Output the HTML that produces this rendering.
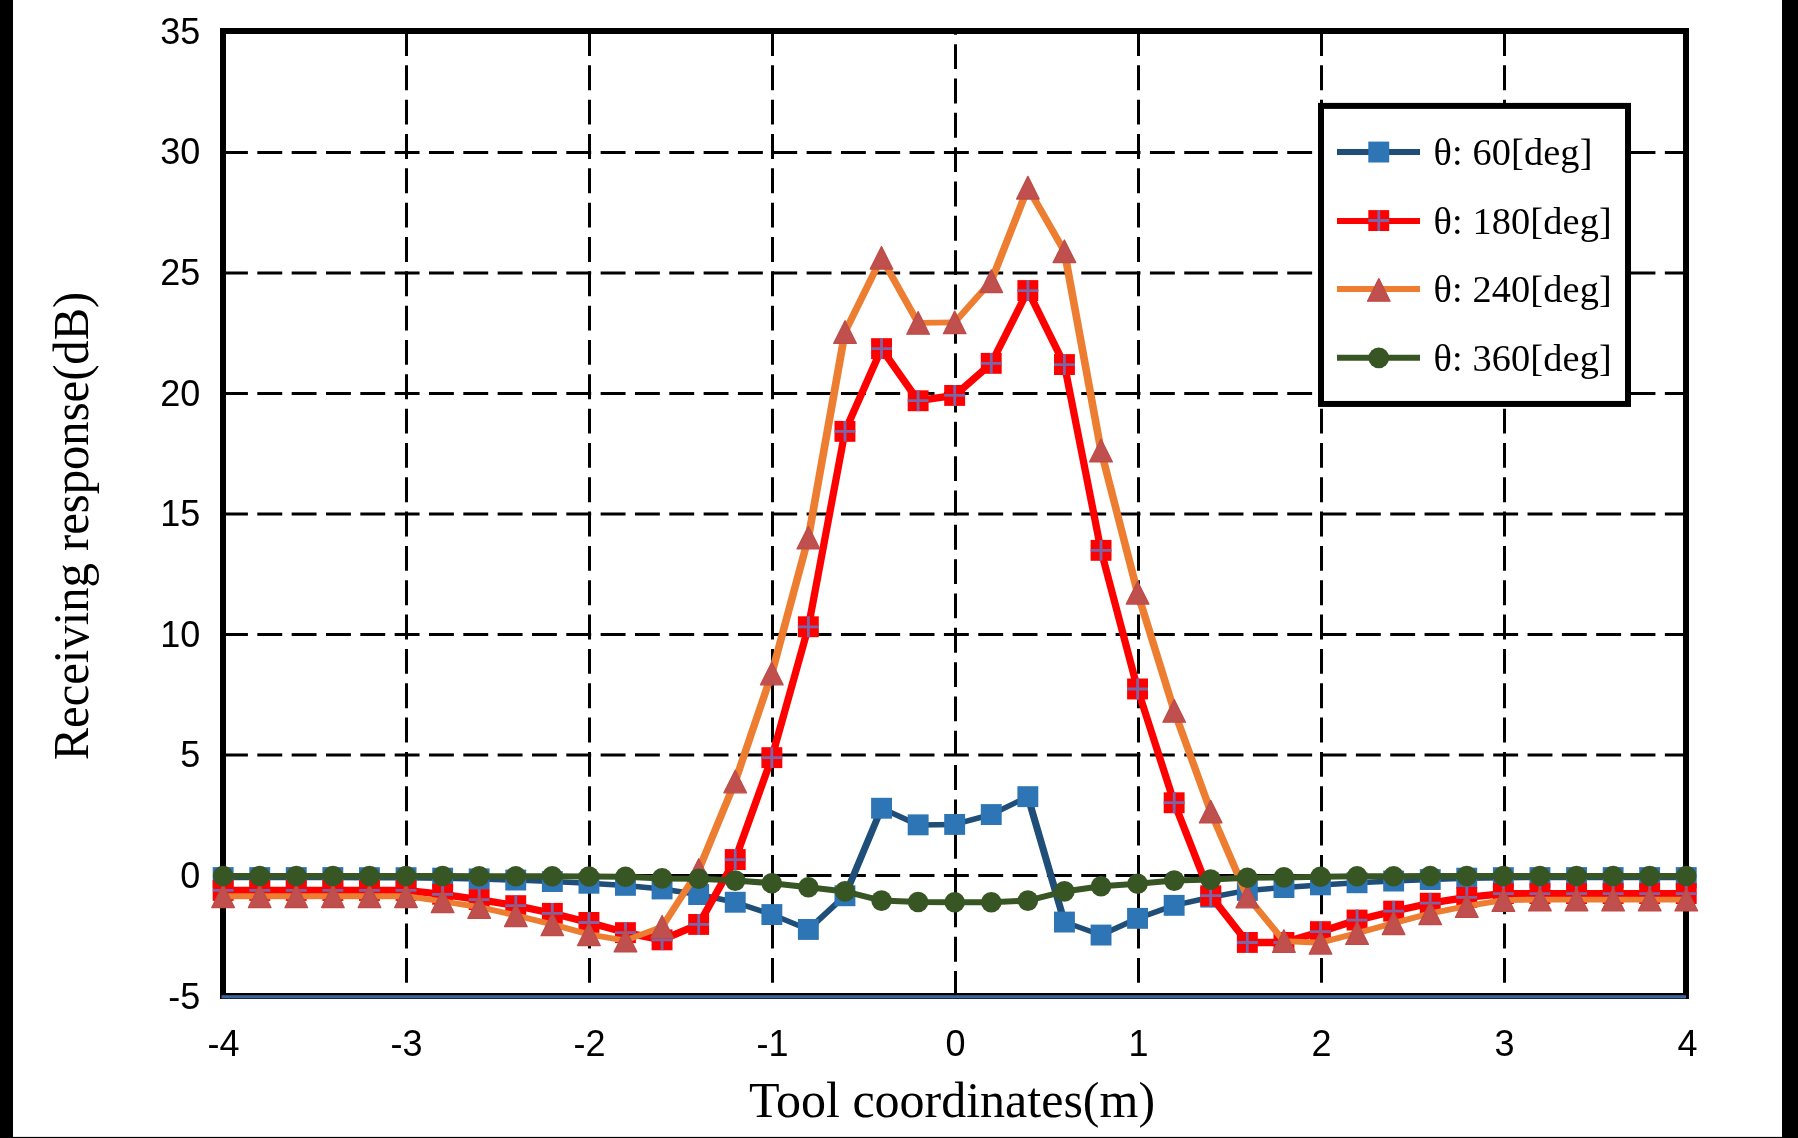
<!DOCTYPE html>
<html><head><meta charset="utf-8"><title>chart</title>
<style>
html,body{margin:0;padding:0;background:#fff;}
body{width:1798px;height:1138px;overflow:hidden;position:relative;font-family:"Liberation Sans",sans-serif;}
svg{position:absolute;left:0;top:0;display:block;will-change:transform}
.t{font-family:"Liberation Sans",sans-serif;font-size:36px;fill:#000}
.s{font-family:"Liberation Serif",serif;fill:#000}
</style></head><body>
<svg width="1798" height="1138" viewBox="0 0 1798 1138">
<rect x="0" y="0" width="1798" height="1138" fill="#fff"/>
<rect x="0" y="0" width="13" height="1138" fill="#000"/>
<rect x="1782" y="0" width="16" height="1138" fill="#000"/>
<rect x="0" y="1136.9" width="1798" height="1.1" fill="#000"/>

<g stroke="#000" stroke-width="3" fill="none" stroke-dasharray="24.9 9.43">
<path d="M223 152.5H1686"/>
<path d="M223 273.0H1686"/>
<path d="M223 393.5H1686"/>
<path d="M223 514.0H1686"/>
<path d="M223 634.5H1686"/>
<path d="M223 755.0H1686"/>
<path d="M223 875.5H1686"/>
<path d="M406.5 31V991"/>
<path d="M589.5 31V991"/>
<path d="M772.5 31V991"/>
<path d="M1138.5 31V991"/>
<path d="M1321.5 31V991"/>
<path d="M1504.5 31V991"/>
<path d="M955.5 996V31"/>
</g>
<rect x="223" y="31" width="1463" height="965" fill="none" stroke="#000" stroke-width="6"/>
<rect x="221.5" y="995.2" width="1464.5" height="3.2" fill="#3C649F"/>
<g fill="none" stroke="#1F4E79" stroke-linecap="round"><path d="M223.1 877.5L259.7 877.5" stroke-width="5.50"/><path d="M259.7 877.5L296.3 877.5" stroke-width="5.50"/><path d="M296.3 877.5L332.9 877.5" stroke-width="5.50"/><path d="M332.9 877.5L369.5 877.7" stroke-width="5.50"/><path d="M369.5 877.7L406.0 877.7" stroke-width="5.50"/><path d="M406.0 877.7L442.6 878.2" stroke-width="5.50"/><path d="M442.6 878.2L479.2 878.9" stroke-width="5.50"/><path d="M479.2 878.9L515.8 880.1" stroke-width="5.50"/><path d="M515.8 880.1L552.3 881.5" stroke-width="5.50"/><path d="M552.3 881.5L588.9 883.2" stroke-width="5.50"/><path d="M588.9 883.2L625.5 885.4" stroke-width="5.50"/><path d="M625.5 885.4L662.1 889.0" stroke-width="5.50"/><path d="M662.1 889.0L698.7 894.5" stroke-width="5.50"/><path d="M698.7 894.5L735.2 902.3" stroke-width="5.50"/><path d="M735.2 902.3L771.8 914.5" stroke-width="5.52"/><path d="M771.8 914.5L808.4 929.5" stroke-width="5.54"/><path d="M808.4 929.5L845.0 895.7" stroke-width="5.90"/><path d="M845.0 895.7L881.5 808.3" stroke-width="6.88"/><path d="M881.5 808.3L918.1 824.9" stroke-width="5.56"/><path d="M918.1 824.9L954.7 824.4" stroke-width="5.50"/><path d="M954.7 824.4L991.3 814.5" stroke-width="5.51"/><path d="M991.3 814.5L1027.9 796.7" stroke-width="5.57"/><path d="M1027.9 796.7L1064.4 922.0" stroke-width="7.11"/><path d="M1064.4 922.0L1101.0 935.0" stroke-width="5.52"/><path d="M1101.0 935.0L1137.6 918.4" stroke-width="5.56"/><path d="M1137.6 918.4L1174.2 905.4" stroke-width="5.52"/><path d="M1174.2 905.4L1210.7 897.2" stroke-width="5.50"/><path d="M1210.7 897.2L1247.3 890.4" stroke-width="5.50"/><path d="M1247.3 890.4L1283.9 887.5" stroke-width="5.50"/><path d="M1283.9 887.5L1320.5 884.9" stroke-width="5.50"/><path d="M1320.5 884.9L1357.1 882.7" stroke-width="5.50"/><path d="M1357.1 882.7L1393.6 881.0" stroke-width="5.50"/><path d="M1393.6 881.0L1430.2 879.6" stroke-width="5.50"/><path d="M1430.2 879.6L1466.8 878.2" stroke-width="5.50"/><path d="M1466.8 878.2L1503.4 877.7" stroke-width="5.50"/><path d="M1503.4 877.7L1539.9 877.5" stroke-width="5.50"/><path d="M1539.9 877.5L1576.5 877.5" stroke-width="5.50"/><path d="M1576.5 877.5L1613.1 877.5" stroke-width="5.50"/><path d="M1613.1 877.5L1649.7 877.5" stroke-width="5.50"/><path d="M1649.7 877.5L1686.3 877.5" stroke-width="5.50"/></g>
<rect x="212.7" y="867.1" width="20.9" height="20.9" fill="#2E75B6"/><rect x="249.3" y="867.1" width="20.9" height="20.9" fill="#2E75B6"/><rect x="285.8" y="867.1" width="20.9" height="20.9" fill="#2E75B6"/><rect x="322.4" y="867.1" width="20.9" height="20.9" fill="#2E75B6"/><rect x="359.0" y="867.2" width="20.9" height="20.9" fill="#2E75B6"/><rect x="395.6" y="867.2" width="20.9" height="20.9" fill="#2E75B6"/><rect x="432.2" y="867.7" width="20.9" height="20.9" fill="#2E75B6"/><rect x="468.7" y="868.4" width="20.9" height="20.9" fill="#2E75B6"/><rect x="505.3" y="869.6" width="20.9" height="20.9" fill="#2E75B6"/><rect x="541.9" y="871.1" width="20.9" height="20.9" fill="#2E75B6"/><rect x="578.5" y="872.8" width="20.9" height="20.9" fill="#2E75B6"/><rect x="615.0" y="874.9" width="20.9" height="20.9" fill="#2E75B6"/><rect x="651.6" y="878.5" width="20.9" height="20.9" fill="#2E75B6"/><rect x="688.2" y="884.1" width="20.9" height="20.9" fill="#2E75B6"/><rect x="724.8" y="891.8" width="20.9" height="20.9" fill="#2E75B6"/><rect x="761.4" y="904.1" width="20.9" height="20.9" fill="#2E75B6"/><rect x="797.9" y="919.0" width="20.9" height="20.9" fill="#2E75B6"/><rect x="834.5" y="885.3" width="20.9" height="20.9" fill="#2E75B6"/><rect x="871.1" y="797.8" width="20.9" height="20.9" fill="#2E75B6"/><rect x="907.7" y="814.4" width="20.9" height="20.9" fill="#2E75B6"/><rect x="944.2" y="814.0" width="20.9" height="20.9" fill="#2E75B6"/><rect x="980.8" y="804.1" width="20.9" height="20.9" fill="#2E75B6"/><rect x="1017.4" y="786.2" width="20.9" height="20.9" fill="#2E75B6"/><rect x="1054.0" y="911.6" width="20.9" height="20.9" fill="#2E75B6"/><rect x="1090.6" y="924.6" width="20.9" height="20.9" fill="#2E75B6"/><rect x="1127.1" y="907.9" width="20.9" height="20.9" fill="#2E75B6"/><rect x="1163.7" y="894.9" width="20.9" height="20.9" fill="#2E75B6"/><rect x="1200.3" y="886.7" width="20.9" height="20.9" fill="#2E75B6"/><rect x="1236.9" y="880.0" width="20.9" height="20.9" fill="#2E75B6"/><rect x="1273.5" y="877.1" width="20.9" height="20.9" fill="#2E75B6"/><rect x="1310.0" y="874.4" width="20.9" height="20.9" fill="#2E75B6"/><rect x="1346.6" y="872.3" width="20.9" height="20.9" fill="#2E75B6"/><rect x="1383.2" y="870.6" width="20.9" height="20.9" fill="#2E75B6"/><rect x="1419.8" y="869.1" width="20.9" height="20.9" fill="#2E75B6"/><rect x="1456.3" y="867.7" width="20.9" height="20.9" fill="#2E75B6"/><rect x="1492.9" y="867.2" width="20.9" height="20.9" fill="#2E75B6"/><rect x="1529.5" y="867.1" width="20.9" height="20.9" fill="#2E75B6"/><rect x="1566.1" y="867.1" width="20.9" height="20.9" fill="#2E75B6"/><rect x="1602.7" y="867.1" width="20.9" height="20.9" fill="#2E75B6"/><rect x="1639.2" y="867.1" width="20.9" height="20.9" fill="#2E75B6"/><rect x="1675.8" y="867.1" width="20.9" height="20.9" fill="#2E75B6"/>
<polyline points="223.1,890.4 259.7,890.4 296.3,890.4 332.9,890.4 369.5,890.4 406.0,890.4 442.6,894.3 479.2,899.6 515.8,905.6 552.3,913.3 588.9,922.5 625.5,932.6 662.1,939.8 698.7,924.4 735.2,859.6 771.8,757.7 808.4,626.8 845.0,431.3 881.5,348.7 918.1,400.7 954.7,395.4 991.3,363.4 1027.9,290.6 1064.4,364.6 1101.0,550.4 1137.6,689.0 1174.2,802.7 1210.7,895.7 1247.3,942.5 1283.9,942.5 1320.5,931.7 1357.1,920.1 1393.6,911.2 1430.2,903.2 1466.8,897.4 1503.4,893.6 1539.9,893.6 1576.5,893.6 1613.1,893.6 1649.7,893.6 1686.3,893.6" fill="none" stroke="#FF0000" stroke-width="7.3" stroke-linejoin="round" stroke-linecap="butt"/>
<rect x="212.7" y="880.0" width="20.9" height="20.9" fill="#FF0000"/><path d="M212.7 890.4H233.6M223.1 880.0V900.9" stroke="#7D64A6" stroke-width="2.8" fill="none"/><rect x="249.3" y="880.0" width="20.9" height="20.9" fill="#FF0000"/><path d="M249.3 890.4H270.2M259.7 880.0V900.9" stroke="#7D64A6" stroke-width="2.8" fill="none"/><rect x="285.8" y="880.0" width="20.9" height="20.9" fill="#FF0000"/><path d="M285.8 890.4H306.7M296.3 880.0V900.9" stroke="#7D64A6" stroke-width="2.8" fill="none"/><rect x="322.4" y="880.0" width="20.9" height="20.9" fill="#FF0000"/><path d="M322.4 890.4H343.3M332.9 880.0V900.9" stroke="#7D64A6" stroke-width="2.8" fill="none"/><rect x="359.0" y="880.0" width="20.9" height="20.9" fill="#FF0000"/><path d="M359.0 890.4H379.9M369.5 880.0V900.9" stroke="#7D64A6" stroke-width="2.8" fill="none"/><rect x="395.6" y="880.0" width="20.9" height="20.9" fill="#FF0000"/><path d="M395.6 890.4H416.5M406.0 880.0V900.9" stroke="#7D64A6" stroke-width="2.8" fill="none"/><rect x="432.2" y="883.8" width="20.9" height="20.9" fill="#FF0000"/><path d="M432.2 894.3H453.1M442.6 883.8V904.7" stroke="#7D64A6" stroke-width="2.8" fill="none"/><rect x="468.7" y="889.1" width="20.9" height="20.9" fill="#FF0000"/><path d="M468.7 899.6H489.6M479.2 889.1V910.1" stroke="#7D64A6" stroke-width="2.8" fill="none"/><rect x="505.3" y="895.2" width="20.9" height="20.9" fill="#FF0000"/><path d="M505.3 905.6H526.2M515.8 895.2V916.1" stroke="#7D64A6" stroke-width="2.8" fill="none"/><rect x="541.9" y="902.9" width="20.9" height="20.9" fill="#FF0000"/><path d="M541.9 913.3H562.8M552.3 902.9V923.8" stroke="#7D64A6" stroke-width="2.8" fill="none"/><rect x="578.5" y="912.0" width="20.9" height="20.9" fill="#FF0000"/><path d="M578.5 922.5H599.4M588.9 912.0V932.9" stroke="#7D64A6" stroke-width="2.8" fill="none"/><rect x="615.0" y="922.2" width="20.9" height="20.9" fill="#FF0000"/><path d="M615.0 932.6H635.9M625.5 922.2V943.1" stroke="#7D64A6" stroke-width="2.8" fill="none"/><rect x="651.6" y="929.4" width="20.9" height="20.9" fill="#FF0000"/><path d="M651.6 939.8H672.5M662.1 929.4V950.3" stroke="#7D64A6" stroke-width="2.8" fill="none"/><rect x="688.2" y="914.0" width="20.9" height="20.9" fill="#FF0000"/><path d="M688.2 924.4H709.1M698.7 914.0V934.9" stroke="#7D64A6" stroke-width="2.8" fill="none"/><rect x="724.8" y="849.1" width="20.9" height="20.9" fill="#FF0000"/><path d="M724.8 859.6H745.7M735.2 849.1V870.0" stroke="#7D64A6" stroke-width="2.8" fill="none"/><rect x="761.4" y="747.2" width="20.9" height="20.9" fill="#FF0000"/><path d="M761.4 757.7H782.3M771.8 747.2V768.1" stroke="#7D64A6" stroke-width="2.8" fill="none"/><rect x="797.9" y="616.3" width="20.9" height="20.9" fill="#FF0000"/><path d="M797.9 626.8H818.8M808.4 616.3V637.2" stroke="#7D64A6" stroke-width="2.8" fill="none"/><rect x="834.5" y="420.9" width="20.9" height="20.9" fill="#FF0000"/><path d="M834.5 431.3H855.4M845.0 420.9V441.8" stroke="#7D64A6" stroke-width="2.8" fill="none"/><rect x="871.1" y="338.2" width="20.9" height="20.9" fill="#FF0000"/><path d="M871.1 348.7H892.0M881.5 338.2V359.1" stroke="#7D64A6" stroke-width="2.8" fill="none"/><rect x="907.7" y="390.3" width="20.9" height="20.9" fill="#FF0000"/><path d="M907.7 400.7H928.6M918.1 390.3V411.2" stroke="#7D64A6" stroke-width="2.8" fill="none"/><rect x="944.2" y="385.0" width="20.9" height="20.9" fill="#FF0000"/><path d="M944.2 395.4H965.2M954.7 385.0V405.9" stroke="#7D64A6" stroke-width="2.8" fill="none"/><rect x="980.8" y="352.9" width="20.9" height="20.9" fill="#FF0000"/><path d="M980.8 363.4H1001.7M991.3 352.9V373.8" stroke="#7D64A6" stroke-width="2.8" fill="none"/><rect x="1017.4" y="280.1" width="20.9" height="20.9" fill="#FF0000"/><path d="M1017.4 290.6H1038.3M1027.9 280.1V301.0" stroke="#7D64A6" stroke-width="2.8" fill="none"/><rect x="1054.0" y="354.1" width="20.9" height="20.9" fill="#FF0000"/><path d="M1054.0 364.6H1074.9M1064.4 354.1V375.0" stroke="#7D64A6" stroke-width="2.8" fill="none"/><rect x="1090.6" y="539.9" width="20.9" height="20.9" fill="#FF0000"/><path d="M1090.6 550.4H1111.5M1101.0 539.9V560.8" stroke="#7D64A6" stroke-width="2.8" fill="none"/><rect x="1127.1" y="678.5" width="20.9" height="20.9" fill="#FF0000"/><path d="M1127.1 689.0H1148.0M1137.6 678.5V699.4" stroke="#7D64A6" stroke-width="2.8" fill="none"/><rect x="1163.7" y="792.3" width="20.9" height="20.9" fill="#FF0000"/><path d="M1163.7 802.7H1184.6M1174.2 792.3V813.2" stroke="#7D64A6" stroke-width="2.8" fill="none"/><rect x="1200.3" y="885.3" width="20.9" height="20.9" fill="#FF0000"/><path d="M1200.3 895.7H1221.2M1210.7 885.3V906.2" stroke="#7D64A6" stroke-width="2.8" fill="none"/><rect x="1236.9" y="932.0" width="20.9" height="20.9" fill="#FF0000"/><path d="M1236.9 942.5H1257.8M1247.3 932.0V952.9" stroke="#7D64A6" stroke-width="2.8" fill="none"/><rect x="1273.5" y="932.0" width="20.9" height="20.9" fill="#FF0000"/><path d="M1273.5 942.5H1294.4M1283.9 932.0V952.9" stroke="#7D64A6" stroke-width="2.8" fill="none"/><rect x="1310.0" y="921.2" width="20.9" height="20.9" fill="#FF0000"/><path d="M1310.0 931.7H1330.9M1320.5 921.2V942.1" stroke="#7D64A6" stroke-width="2.8" fill="none"/><rect x="1346.6" y="909.6" width="20.9" height="20.9" fill="#FF0000"/><path d="M1346.6 920.1H1367.5M1357.1 909.6V930.5" stroke="#7D64A6" stroke-width="2.8" fill="none"/><rect x="1383.2" y="900.7" width="20.9" height="20.9" fill="#FF0000"/><path d="M1383.2 911.2H1404.1M1393.6 900.7V921.6" stroke="#7D64A6" stroke-width="2.8" fill="none"/><rect x="1419.8" y="892.8" width="20.9" height="20.9" fill="#FF0000"/><path d="M1419.8 903.2H1440.7M1430.2 892.8V913.7" stroke="#7D64A6" stroke-width="2.8" fill="none"/><rect x="1456.3" y="887.0" width="20.9" height="20.9" fill="#FF0000"/><path d="M1456.3 897.4H1477.2M1466.8 887.0V907.9" stroke="#7D64A6" stroke-width="2.8" fill="none"/><rect x="1492.9" y="883.1" width="20.9" height="20.9" fill="#FF0000"/><path d="M1492.9 893.6H1513.8M1503.4 883.1V904.0" stroke="#7D64A6" stroke-width="2.8" fill="none"/><rect x="1529.5" y="883.1" width="20.9" height="20.9" fill="#FF0000"/><path d="M1529.5 893.6H1550.4M1539.9 883.1V904.0" stroke="#7D64A6" stroke-width="2.8" fill="none"/><rect x="1566.1" y="883.1" width="20.9" height="20.9" fill="#FF0000"/><path d="M1566.1 893.6H1587.0M1576.5 883.1V904.0" stroke="#7D64A6" stroke-width="2.8" fill="none"/><rect x="1602.7" y="883.1" width="20.9" height="20.9" fill="#FF0000"/><path d="M1602.7 893.6H1623.6M1613.1 883.1V904.0" stroke="#7D64A6" stroke-width="2.8" fill="none"/><rect x="1639.2" y="883.1" width="20.9" height="20.9" fill="#FF0000"/><path d="M1639.2 893.6H1660.1M1649.7 883.1V904.0" stroke="#7D64A6" stroke-width="2.8" fill="none"/><rect x="1675.8" y="883.1" width="20.9" height="20.9" fill="#FF0000"/><path d="M1675.8 893.6H1696.7M1686.3 883.1V904.0" stroke="#7D64A6" stroke-width="2.8" fill="none"/>
<g fill="none" stroke="#ED7D31" stroke-linecap="round"><path d="M223.1 896.2L259.7 896.2" stroke-width="5.90"/><path d="M259.7 896.2L296.3 896.2" stroke-width="5.90"/><path d="M296.3 896.2L332.9 896.2" stroke-width="5.90"/><path d="M332.9 896.2L369.5 896.2" stroke-width="5.90"/><path d="M369.5 896.2L406.0 896.2" stroke-width="5.90"/><path d="M406.0 896.2L442.6 901.3" stroke-width="5.90"/><path d="M442.6 901.3L479.2 907.1" stroke-width="5.90"/><path d="M479.2 907.1L515.8 915.3" stroke-width="5.90"/><path d="M515.8 915.3L552.3 924.4" stroke-width="5.91"/><path d="M552.3 924.4L588.9 934.3" stroke-width="5.91"/><path d="M588.9 934.3L625.5 940.6" stroke-width="5.90"/><path d="M625.5 940.6L662.1 926.8" stroke-width="5.93"/><path d="M662.1 926.8L698.7 870.0" stroke-width="6.85"/><path d="M698.7 870.0L735.2 781.5" stroke-width="7.29"/><path d="M735.2 781.5L771.8 673.5" stroke-width="7.43"/><path d="M771.8 673.5L808.4 537.6" stroke-width="7.55"/><path d="M808.4 537.6L845.0 332.0" stroke-width="7.69"/><path d="M845.0 332.0L881.5 257.8" stroke-width="7.13"/><path d="M881.5 257.8L918.1 322.9" stroke-width="7.00"/><path d="M918.1 322.9L954.7 322.4" stroke-width="5.90"/><path d="M954.7 322.4L991.3 281.2" stroke-width="6.49"/><path d="M991.3 281.2L1027.9 187.7" stroke-width="7.33"/><path d="M1027.9 187.7L1064.4 251.3" stroke-width="6.97"/><path d="M1064.4 251.3L1101.0 450.6" stroke-width="7.68"/><path d="M1101.0 450.6L1137.6 592.8" stroke-width="7.57"/><path d="M1137.6 592.8L1174.2 710.9" stroke-width="7.48"/><path d="M1174.2 710.9L1210.7 811.6" stroke-width="7.38"/><path d="M1210.7 811.6L1247.3 896.5" stroke-width="7.25"/><path d="M1247.3 896.5L1283.9 941.1" stroke-width="6.58"/><path d="M1283.9 941.1L1320.5 942.7" stroke-width="5.90"/><path d="M1320.5 942.7L1357.1 933.1" stroke-width="5.91"/><path d="M1357.1 933.1L1393.6 923.2" stroke-width="5.91"/><path d="M1393.6 923.2L1430.2 913.3" stroke-width="5.91"/><path d="M1430.2 913.3L1466.8 906.1" stroke-width="5.90"/><path d="M1466.8 906.1L1503.4 900.1" stroke-width="5.90"/><path d="M1503.4 900.1L1539.9 899.6" stroke-width="5.90"/><path d="M1539.9 899.6L1576.5 899.6" stroke-width="5.90"/><path d="M1576.5 899.6L1613.1 899.6" stroke-width="5.90"/><path d="M1613.1 899.6L1649.7 899.6" stroke-width="5.90"/><path d="M1649.7 899.6L1686.3 899.6" stroke-width="5.90"/></g>
<path d="M223.1 884.9L234.4 907.5H211.8Z" fill="#C0504D" stroke="#BE4B48" stroke-width="1.3" stroke-linejoin="round"/><path d="M259.7 884.9L271.0 907.5H248.4Z" fill="#C0504D" stroke="#BE4B48" stroke-width="1.3" stroke-linejoin="round"/><path d="M296.3 884.9L307.6 907.5H285.0Z" fill="#C0504D" stroke="#BE4B48" stroke-width="1.3" stroke-linejoin="round"/><path d="M332.9 884.9L344.2 907.5H321.6Z" fill="#C0504D" stroke="#BE4B48" stroke-width="1.3" stroke-linejoin="round"/><path d="M369.5 884.9L380.8 907.5H358.2Z" fill="#C0504D" stroke="#BE4B48" stroke-width="1.3" stroke-linejoin="round"/><path d="M406.0 884.9L417.3 907.5H394.7Z" fill="#C0504D" stroke="#BE4B48" stroke-width="1.3" stroke-linejoin="round"/><path d="M442.6 890.0L453.9 912.6H431.3Z" fill="#C0504D" stroke="#BE4B48" stroke-width="1.3" stroke-linejoin="round"/><path d="M479.2 895.8L490.5 918.4H467.9Z" fill="#C0504D" stroke="#BE4B48" stroke-width="1.3" stroke-linejoin="round"/><path d="M515.8 904.0L527.1 926.6H504.5Z" fill="#C0504D" stroke="#BE4B48" stroke-width="1.3" stroke-linejoin="round"/><path d="M552.3 913.1L563.6 935.7H541.0Z" fill="#C0504D" stroke="#BE4B48" stroke-width="1.3" stroke-linejoin="round"/><path d="M588.9 923.0L600.2 945.6H577.6Z" fill="#C0504D" stroke="#BE4B48" stroke-width="1.3" stroke-linejoin="round"/><path d="M625.5 929.3L636.8 951.9H614.2Z" fill="#C0504D" stroke="#BE4B48" stroke-width="1.3" stroke-linejoin="round"/><path d="M662.1 915.5L673.4 938.1H650.8Z" fill="#C0504D" stroke="#BE4B48" stroke-width="1.3" stroke-linejoin="round"/><path d="M698.7 858.7L710.0 881.3H687.4Z" fill="#C0504D" stroke="#BE4B48" stroke-width="1.3" stroke-linejoin="round"/><path d="M735.2 770.2L746.5 792.8H723.9Z" fill="#C0504D" stroke="#BE4B48" stroke-width="1.3" stroke-linejoin="round"/><path d="M771.8 662.2L783.1 684.8H760.5Z" fill="#C0504D" stroke="#BE4B48" stroke-width="1.3" stroke-linejoin="round"/><path d="M808.4 526.3L819.7 548.9H797.1Z" fill="#C0504D" stroke="#BE4B48" stroke-width="1.3" stroke-linejoin="round"/><path d="M845.0 320.7L856.3 343.3H833.7Z" fill="#C0504D" stroke="#BE4B48" stroke-width="1.3" stroke-linejoin="round"/><path d="M881.5 246.5L892.8 269.1H870.2Z" fill="#C0504D" stroke="#BE4B48" stroke-width="1.3" stroke-linejoin="round"/><path d="M918.1 311.6L929.4 334.2H906.8Z" fill="#C0504D" stroke="#BE4B48" stroke-width="1.3" stroke-linejoin="round"/><path d="M954.7 311.1L966.0 333.7H943.4Z" fill="#C0504D" stroke="#BE4B48" stroke-width="1.3" stroke-linejoin="round"/><path d="M991.3 269.9L1002.6 292.5H980.0Z" fill="#C0504D" stroke="#BE4B48" stroke-width="1.3" stroke-linejoin="round"/><path d="M1027.9 176.4L1039.2 199.0H1016.6Z" fill="#C0504D" stroke="#BE4B48" stroke-width="1.3" stroke-linejoin="round"/><path d="M1064.4 240.0L1075.7 262.6H1053.1Z" fill="#C0504D" stroke="#BE4B48" stroke-width="1.3" stroke-linejoin="round"/><path d="M1101.0 439.3L1112.3 461.9H1089.7Z" fill="#C0504D" stroke="#BE4B48" stroke-width="1.3" stroke-linejoin="round"/><path d="M1137.6 581.5L1148.9 604.1H1126.3Z" fill="#C0504D" stroke="#BE4B48" stroke-width="1.3" stroke-linejoin="round"/><path d="M1174.2 699.6L1185.5 722.2H1162.9Z" fill="#C0504D" stroke="#BE4B48" stroke-width="1.3" stroke-linejoin="round"/><path d="M1210.7 800.3L1222.0 822.9H1199.4Z" fill="#C0504D" stroke="#BE4B48" stroke-width="1.3" stroke-linejoin="round"/><path d="M1247.3 885.2L1258.6 907.8H1236.0Z" fill="#C0504D" stroke="#BE4B48" stroke-width="1.3" stroke-linejoin="round"/><path d="M1283.9 929.8L1295.2 952.4H1272.6Z" fill="#C0504D" stroke="#BE4B48" stroke-width="1.3" stroke-linejoin="round"/><path d="M1320.5 931.4L1331.8 954.0H1309.2Z" fill="#C0504D" stroke="#BE4B48" stroke-width="1.3" stroke-linejoin="round"/><path d="M1357.1 921.8L1368.4 944.4H1345.8Z" fill="#C0504D" stroke="#BE4B48" stroke-width="1.3" stroke-linejoin="round"/><path d="M1393.6 911.9L1404.9 934.5H1382.3Z" fill="#C0504D" stroke="#BE4B48" stroke-width="1.3" stroke-linejoin="round"/><path d="M1430.2 902.0L1441.5 924.6H1418.9Z" fill="#C0504D" stroke="#BE4B48" stroke-width="1.3" stroke-linejoin="round"/><path d="M1466.8 894.8L1478.1 917.4H1455.5Z" fill="#C0504D" stroke="#BE4B48" stroke-width="1.3" stroke-linejoin="round"/><path d="M1503.4 888.8L1514.7 911.4H1492.1Z" fill="#C0504D" stroke="#BE4B48" stroke-width="1.3" stroke-linejoin="round"/><path d="M1539.9 888.3L1551.2 910.9H1528.6Z" fill="#C0504D" stroke="#BE4B48" stroke-width="1.3" stroke-linejoin="round"/><path d="M1576.5 888.3L1587.8 910.9H1565.2Z" fill="#C0504D" stroke="#BE4B48" stroke-width="1.3" stroke-linejoin="round"/><path d="M1613.1 888.3L1624.4 910.9H1601.8Z" fill="#C0504D" stroke="#BE4B48" stroke-width="1.3" stroke-linejoin="round"/><path d="M1649.7 888.3L1661.0 910.9H1638.4Z" fill="#C0504D" stroke="#BE4B48" stroke-width="1.3" stroke-linejoin="round"/><path d="M1686.3 888.3L1697.6 910.9H1675.0Z" fill="#C0504D" stroke="#BE4B48" stroke-width="1.3" stroke-linejoin="round"/>
<polyline points="223.1,876.0 259.7,876.0 296.3,876.0 332.9,876.0 369.5,876.0 406.0,876.0 442.6,876.0 479.2,876.2 515.8,876.3 552.3,876.3 588.9,876.5 625.5,876.7 662.1,878.4 698.7,878.8 735.2,880.6 771.8,883.2 808.4,887.3 845.0,891.4 881.5,900.6 918.1,902.0 954.7,902.3 991.3,902.3 1027.9,900.6 1064.4,891.4 1101.0,886.3 1137.6,883.7 1174.2,880.6 1210.7,879.6 1247.3,877.7 1283.9,877.4 1320.5,876.7 1357.1,876.2 1393.6,876.2 1430.2,876.0 1466.8,876.0 1503.4,876.0 1539.9,876.0 1576.5,876.0 1613.1,876.0 1649.7,876.0 1686.3,876.0" fill="none" stroke="#375623" stroke-width="6.05" stroke-linejoin="round" stroke-linecap="butt"/>
<circle cx="223.1" cy="876.0" r="10.3" fill="#375623"/><circle cx="259.7" cy="876.0" r="10.3" fill="#375623"/><circle cx="296.3" cy="876.0" r="10.3" fill="#375623"/><circle cx="332.9" cy="876.0" r="10.3" fill="#375623"/><circle cx="369.5" cy="876.0" r="10.3" fill="#375623"/><circle cx="406.0" cy="876.0" r="10.3" fill="#375623"/><circle cx="442.6" cy="876.0" r="10.3" fill="#375623"/><circle cx="479.2" cy="876.2" r="10.3" fill="#375623"/><circle cx="515.8" cy="876.3" r="10.3" fill="#375623"/><circle cx="552.3" cy="876.3" r="10.3" fill="#375623"/><circle cx="588.9" cy="876.5" r="10.3" fill="#375623"/><circle cx="625.5" cy="876.7" r="10.3" fill="#375623"/><circle cx="662.1" cy="878.4" r="10.3" fill="#375623"/><circle cx="698.7" cy="878.8" r="10.3" fill="#375623"/><circle cx="735.2" cy="880.6" r="10.3" fill="#375623"/><circle cx="771.8" cy="883.2" r="10.3" fill="#375623"/><circle cx="808.4" cy="887.3" r="10.3" fill="#375623"/><circle cx="845.0" cy="891.4" r="10.3" fill="#375623"/><circle cx="881.5" cy="900.6" r="10.3" fill="#375623"/><circle cx="918.1" cy="902.0" r="10.3" fill="#375623"/><circle cx="954.7" cy="902.3" r="10.3" fill="#375623"/><circle cx="991.3" cy="902.3" r="10.3" fill="#375623"/><circle cx="1027.9" cy="900.6" r="10.3" fill="#375623"/><circle cx="1064.4" cy="891.4" r="10.3" fill="#375623"/><circle cx="1101.0" cy="886.3" r="10.3" fill="#375623"/><circle cx="1137.6" cy="883.7" r="10.3" fill="#375623"/><circle cx="1174.2" cy="880.6" r="10.3" fill="#375623"/><circle cx="1210.7" cy="879.6" r="10.3" fill="#375623"/><circle cx="1247.3" cy="877.7" r="10.3" fill="#375623"/><circle cx="1283.9" cy="877.4" r="10.3" fill="#375623"/><circle cx="1320.5" cy="876.7" r="10.3" fill="#375623"/><circle cx="1357.1" cy="876.2" r="10.3" fill="#375623"/><circle cx="1393.6" cy="876.2" r="10.3" fill="#375623"/><circle cx="1430.2" cy="876.0" r="10.3" fill="#375623"/><circle cx="1466.8" cy="876.0" r="10.3" fill="#375623"/><circle cx="1503.4" cy="876.0" r="10.3" fill="#375623"/><circle cx="1539.9" cy="876.0" r="10.3" fill="#375623"/><circle cx="1576.5" cy="876.0" r="10.3" fill="#375623"/><circle cx="1613.1" cy="876.0" r="10.3" fill="#375623"/><circle cx="1649.7" cy="876.0" r="10.3" fill="#375623"/><circle cx="1686.3" cy="876.0" r="10.3" fill="#375623"/>
<rect x="1321" y="105.9" width="307" height="298.05" fill="#fff" stroke="#000" stroke-width="6"/>
<path d="M1337 152.0H1420" stroke="#1F4E79" stroke-width="5.8"/>
<rect x="1368.3" y="141.6" width="20.9" height="20.9" fill="#2E75B6"/>
<text class="s lg" x="1433.4" y="164.8" font-size="38.3" letter-spacing="0.15">θ: 60[deg]</text>
<path d="M1337 220.9H1420" stroke="#FF0000" stroke-width="6.0"/>
<rect x="1368.3" y="210.1" width="20.9" height="20.9" fill="#FF0000"/><path d="M1368.3 220.5H1389.2M1378.8 210.1V230.9" stroke="#7D64A6" stroke-width="2.8" fill="none"/>
<text class="s lg" x="1433.4" y="233.7" font-size="38.3" letter-spacing="0.15">θ: 180[deg]</text>
<path d="M1337 289.0H1420" stroke="#ED7D31" stroke-width="5.8"/>
<path d="M1378.8 278.6L1390.1 301.2H1367.5Z" fill="#C0504D" stroke="#BE4B48" stroke-width="1.3" stroke-linejoin="round"/>
<text class="s lg" x="1433.4" y="301.9" font-size="38.3" letter-spacing="0.15">θ: 240[deg]</text>
<path d="M1337 357.85H1420" stroke="#375623" stroke-width="6.0"/>
<circle cx="1378.8" cy="357.9" r="10.3" fill="#375623"/>
<text class="s lg" x="1433.4" y="370.7" font-size="38.3" letter-spacing="0.15">θ: 360[deg]</text>
<text class="t" transform="translate(200.3,43.7)" text-anchor="end">35</text>
<text class="t" transform="translate(200.3,164.3)" text-anchor="end">30</text>
<text class="t" transform="translate(200.3,284.9)" text-anchor="end">25</text>
<text class="t" transform="translate(200.3,405.5)" text-anchor="end">20</text>
<text class="t" transform="translate(200.3,526.1)" text-anchor="end">15</text>
<text class="t" transform="translate(200.3,646.7)" text-anchor="end">10</text>
<text class="t" transform="translate(200.3,767.3)" text-anchor="end">5</text>
<text class="t" transform="translate(200.3,887.9)" text-anchor="end">0</text>
<text class="t" transform="translate(200.3,1008.5)" text-anchor="end">-5</text>
<text class="t" transform="translate(223.5,1056)" text-anchor="middle">-4</text>
<text class="t" transform="translate(406.5,1056)" text-anchor="middle">-3</text>
<text class="t" transform="translate(589.5,1056)" text-anchor="middle">-2</text>
<text class="t" transform="translate(772.5,1056)" text-anchor="middle">-1</text>
<text class="t" transform="translate(955.5,1056)" text-anchor="middle">0</text>
<text class="t" transform="translate(1138.5,1056)" text-anchor="middle">1</text>
<text class="t" transform="translate(1321.5,1056)" text-anchor="middle">2</text>
<text class="t" transform="translate(1504.5,1056)" text-anchor="middle">3</text>
<text class="t" transform="translate(1687.5,1056)" text-anchor="middle">4</text>
<text class="s" x="952" y="1117" font-size="50" text-anchor="middle">Tool coordinates(m)</text>
<text class="s" transform="translate(87.6,526) rotate(-90) scale(0.973,1)" font-size="50" text-anchor="middle">Receiving response(dB)</text>
</svg></body></html>
